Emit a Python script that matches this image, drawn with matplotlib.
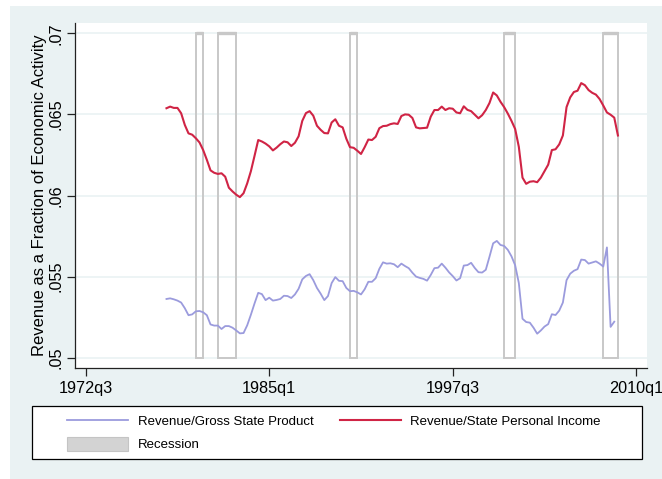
import numpy as np
import matplotlib
matplotlib.use('Agg')
import matplotlib.pyplot as plt
from matplotlib.patches import Rectangle, Patch
from matplotlib.lines import Line2D

plt.rcParams['font.family'] = ['Liberation Sans', 'DejaVu Sans']

# quarterly data, first quarter 1978q1
start_year = 1978.0
rev_income = [
    .06538, .06548, .0654, .0654, .06507, .06435, .06383, .06375,
    .06353, .06327, .0628, .0622, .06155, .0614, .06133, .06137,
    .06116, .06048, .06025, .06005, .0599, .06014, .06075, .0615,
    .06245, .06342, .06333, .0632, .06303, .06278, .06295, .06316,
    .06333, .06328, .06305, .06325, .06365, .0646, .06508, .0652,
    .06492, .0643, .06405, .06385, .06383, .0645, .0647, .0643,
    .0642, .0635, .06298, .06294, .06276, .06256, .06298, .06345,
    .06342, .06362, .06415, .06428, .0643, .0644, .06445, .06441,
    .0649, .065, .06498, .06478, .0642, .06414, .06416, .06418,
    .06486, .06527, .06527, .06548, .06527, .06538, .06535, .06512,
    .06507, .0655, .06528, .0652, .06498, .06476, .06495, .06527,
    .0657, .06635, .06617, .06578, .06545, .06505, .0646, .0641,
    .063, .0611, .06072, .06085, .06088, .06082, .0611, .0615,
    .0619, .0628, .06285, .06315, .0637, .06545, .06605, .06638,
    .06646, .06693, .0668, .0665, .06633, .06622, .06595, .06555,
    .06512, .06498, .0648, .0637,
]
rev_gsp = [
    .05362, .05366, .0536, .05352, .0534, .05305, .05262, .05267,
    .05286, .05288, .0528, .05262, .05205, .05198, .05198, .05177,
    .05195, .05195, .05185, .05168, .0515, .05152, .052, .05265,
    .05335, .054, .05392, .05355, .0537, .05352, .05356, .05362,
    .05382, .0538, .05368, .0539, .05425, .05483, .05504, .05515,
    .05478, .0543, .05395, .05355, .0538, .0546, .05497, .05474,
    .05472, .0543, .0541, .05412, .05403, .0539, .05422, .05468,
    .05468, .0549, .05548, .05588, .0558, .05582, .05576, .05558,
    .0558, .05565, .05552, .05524, .055, .05492, .05486, .05475,
    .0551, .05552, .05555, .0558, .05555, .05526, .05503, .05476,
    .0549, .05568, .05571, .05585, .05553, .05527, .05525, .05542,
    .05622, .05705, .0572, .05695, .05689, .05665, .05625, .0557,
    .0546, .0524, .0522, .05216, .05185, .05148, .05168, .05192,
    .05207, .05268, .05263, .0529, .0534, .05478, .05518, .05536,
    .05546, .05605, .05602, .0558, .05587, .05594, .0558, .05562,
    .0568, .0519, .05222,
]
# recessions (start, end) as fractional years
rec_start = [1980.0, 1981.5, 1990.5, 2001.0, 2007.75]
rec_end = [1980.5, 1982.75, 1991.0, 2001.75, 2008.75]

xtick_pos = [1972.5, 1985.0, 1997.5, 2010.0]
xtick_lab = ['1972q3', '1985q1', '1997q3', '2010q1']
ytick_pos = [.05, .055, .06, .065, .07]
ytick_lab = ['.05', '.055', '.06', '.065', '.07']

bg = '#EAF2F3'
red = '#D02445'
lav = '#9B9BDD'
recgray = '#C8C8C8'

W, H = 662, 479
fig = plt.figure(figsize=(W / 100, H / 100), dpi=100)
fig.patches.append(Rectangle((10 / W, 0), 652 / W, 473 / H, transform=fig.transFigure,
                             facecolor=bg, edgecolor='none', zorder=-10))

ax = fig.add_axes([75 / W, 1 - 368 / H, 572 / W, 345 / H])
ax.set_facecolor('white')

x_inc = start_year + np.arange(len(rev_income)) / 4
x_gsp = start_year + np.arange(len(rev_gsp)) / 4

for y in ytick_pos:
    ax.axhline(y, color=bg, lw=1.2, zorder=0)

# recession boxes
widths = [e - s for s, e in zip(rec_start, rec_end)]
ax.bar(rec_start, .02, width=widths, bottom=.05, align='edge', fill=False,
       edgecolor=recgray, lw=1.4, zorder=1)
ax.hlines([.07] * len(rec_start), rec_start, rec_end, color=recgray, lw=2.4, zorder=1)

ax.plot(x_gsp, rev_gsp, color=lav, lw=1.3, zorder=3)
ax.plot(x_inc, rev_income, color=red, lw=1.5, zorder=3)

ax.set_xlim(1971.77, 2010.73)
ax.set_ylim(.049365, .070635)
ax.set_xticks(xtick_pos)
ax.set_xticklabels(xtick_lab)
ax.set_yticks(ytick_pos)
ax.set_yticklabels(ytick_lab, rotation=90, va='center')
ax.tick_params(axis='both', labelsize=11.7, length=5.5, width=0.9, color='#222222')
ax.tick_params(axis='x', pad=4)
ax.tick_params(axis='y', pad=3)
for s in ['top', 'right']:
    ax.spines[s].set_visible(False)
for s in ['left', 'bottom']:
    ax.spines[s].set_color('#222222')
    ax.spines[s].set_linewidth(0.9)
ax.set_ylabel('Revenue as a Fraction of Economic Activity', fontsize=12, labelpad=1)

# legend
fig.patches.append(Rectangle((32 / W, 1 - 459 / H), 610 / W, 53 / H, transform=fig.transFigure,
                             facecolor='white', edgecolor='black', lw=0.9, zorder=5))
handles = [Line2D([], [], color=lav, lw=1.3),
           Patch(facecolor='#D3D3D3', edgecolor='#C4C4C4', lw=0.8),
           Line2D([], [], color=red, lw=1.5)]
labels = ['Revenue/Gross State Product', 'Recession', 'Revenue/State Personal Income']
leg = fig.legend(handles, labels, ncol=2, mode='expand', loc='center',
                 bbox_to_anchor=(67 / W, 1 - 432.6 / H, 534 / W, 0), frameon=False,
                 fontsize=9.5, handlelength=4.6, handleheight=1.3, handletextpad=0.75,
                 labelspacing=0.65, borderpad=0, borderaxespad=0)
leg.set_zorder(6)

fig.savefig('out.png', dpi=100)
